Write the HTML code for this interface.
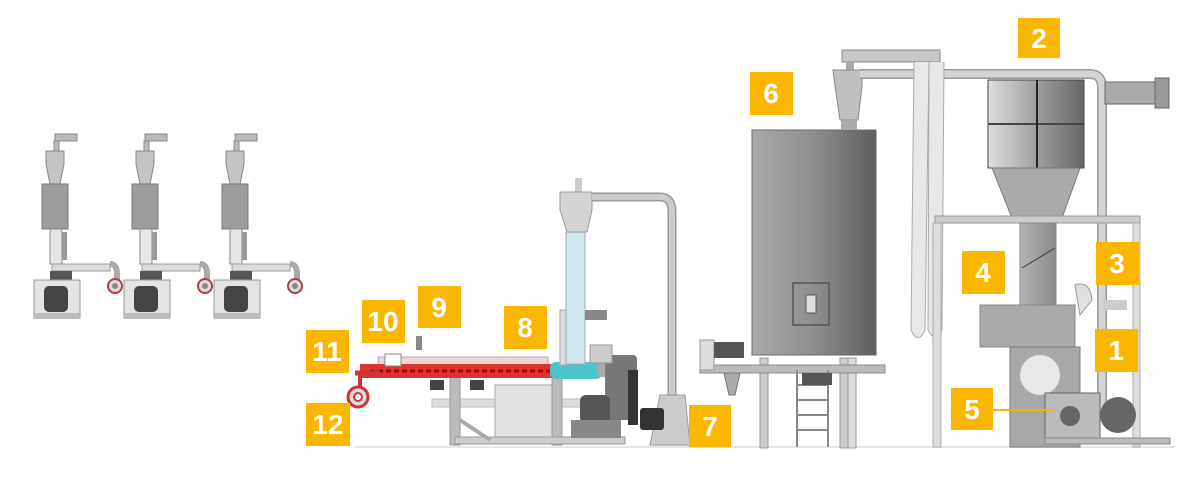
<!DOCTYPE html>
<html><head><meta charset="utf-8"><style>
html,body{margin:0;padding:0;background:#fff;}
svg{display:block}
.lb{font-family:"Liberation Sans",sans-serif;font-weight:bold;font-size:28px;fill:#fff;text-anchor:middle}
</style></head><body>
<svg width="1200" height="500" viewBox="0 0 1200 500" xmlns="http://www.w3.org/2000/svg">
<defs>
<linearGradient id="silo" x1="0" x2="1"><stop offset="0" stop-color="#a9a9a9"/><stop offset="0.5" stop-color="#8e8e8e"/><stop offset="1" stop-color="#5e5e5e"/></linearGradient>
<linearGradient id="filt" x1="0" x2="1"><stop offset="0" stop-color="#dedede"/><stop offset="0.5" stop-color="#a0a0a0"/><stop offset="1" stop-color="#666"/></linearGradient>
<linearGradient id="col" x1="0" x2="1"><stop offset="0" stop-color="#b5b5b5"/><stop offset="1" stop-color="#8a8a8a"/></linearGradient>
<g id="unit">
 <rect x="13" y="0" width="22" height="7" fill="#bbb" stroke="#888"/>
 <rect x="12" y="7" width="5" height="10" fill="#bbb" stroke="#888"/>
 <path d="M4 17 H22 V30 L18 50 H8 L4 30Z" fill="#c4c4c4" stroke="#888"/>
 <rect x="0" y="50" width="26" height="45" fill="#9c9c9c" stroke="#777"/>
 <rect x="8" y="95" width="12" height="35" fill="#e6e6e6" stroke="#888"/>
 <rect x="20" y="98" width="5" height="28" fill="#999"/>
 <rect x="10" y="130" width="58" height="7" fill="#ddd" stroke="#999"/>
 <path d="M68 130 Q75 130 75 140 V147" fill="none" stroke="#aaa" stroke-width="6"/>
 <circle cx="73" cy="152" r="7" fill="#ddd" stroke="#b04040" stroke-width="2"/>
 <circle cx="73" cy="152" r="3" fill="#888"/>
 <rect x="8" y="137" width="22" height="12" fill="#555"/>
 <rect x="-8" y="146" width="46" height="38" fill="#e4e4e4" stroke="#999"/>
 <rect x="2" y="152" width="24" height="26" fill="#444" rx="5"/>
 <rect x="-8" y="179" width="46" height="6" fill="#bbb"/>
</g>
</defs>

<use href="#unit" x="42" y="134"/>
<use href="#unit" x="132" y="134"/>
<use href="#unit" x="222" y="134"/>

<line x1="355" y1="447" x2="1175" y2="447" stroke="#e6e6e6" stroke-width="2"/>

<!-- extruder -->
<rect x="432" y="399" width="175" height="8" fill="#ddd" stroke="#bbb"/>
<rect x="495" y="385" width="65" height="58" fill="#e2e2e2" stroke="#aaa"/>
<rect x="450" y="375" width="10" height="70" fill="#bbb" stroke="#999"/>
<rect x="552" y="375" width="10" height="70" fill="#bbb" stroke="#999"/>
<rect x="455" y="437" width="170" height="7" fill="#ccc" stroke="#999"/>
<path d="M460 420 L490 440" stroke="#aaa" stroke-width="4"/>
<rect x="430" y="380" width="14" height="10" fill="#444"/>
<rect x="470" y="380" width="14" height="10" fill="#444"/>
<rect x="378" y="357" width="170" height="8" fill="#e8d8d8" stroke="#c8a0a0"/>
<rect x="360" y="364" width="195" height="14" fill="#d33" />
<path d="M370 371 H550" stroke="#a00" stroke-width="3" stroke-dasharray="5 3"/>
<rect x="550" y="362" width="52" height="17" fill="#4fc4c8" rx="6"/>
<rect x="598" y="363" width="12" height="14" fill="#aaa"/>
<rect x="605" y="355" width="32" height="65" fill="#777" rx="4"/>
<rect x="628" y="370" width="10" height="55" fill="#333"/>
<rect x="580" y="395" width="30" height="28" fill="#555" rx="6"/>
<rect x="571" y="420" width="50" height="18" fill="#888"/>
<path d="M355 373 H380" stroke="#c33" stroke-width="5"/>
<path d="M360 373 V388" stroke="#c33" stroke-width="4"/>
<circle cx="358" cy="397" r="10" fill="#ddd" stroke="#c33" stroke-width="3"/>
<circle cx="358" cy="397" r="4" fill="#fff" stroke="#c33" stroke-width="2"/>
<rect x="385" y="354" width="16" height="12" fill="#fff" stroke="#888"/>
<rect x="416" y="336" width="6" height="14" fill="#888"/>
<rect x="560" y="310" width="10" height="55" fill="#ddd" stroke="#aaa"/>
<rect x="566" y="232" width="19" height="132" fill="#cfe8ec" stroke="#9ab"/>
<rect x="585" y="310" width="22" height="10" fill="#888"/>
<rect x="590" y="345" width="22" height="18" fill="#ccc" stroke="#999"/>
<rect x="575" y="178" width="7" height="14" fill="#ccc"/>
<path d="M560 192 H592 V210 L587 232 H567 L560 210Z" fill="#d4d4d4" stroke="#999"/>
<path d="M592 197 H660 Q672 197 672 212 V400" fill="none" stroke="#999" stroke-width="9"/>
<path d="M592 197 H660 Q672 197 672 212 V400" fill="none" stroke="#ccc" stroke-width="6"/>
<path d="M660 395 L685 395 L690 445 L650 445Z" fill="#ccc" stroke="#999"/>
<rect x="640" y="408" width="24" height="22" fill="#333" rx="3"/>

<!-- silo -->
<rect x="752" y="130" width="124" height="225" fill="url(#silo)" stroke="#666"/>
<rect x="793" y="283" width="36" height="42" fill="none" stroke="#555" stroke-width="1.5"/>
<rect x="806" y="295" width="10" height="18" fill="#ddd" stroke="#555"/>
<rect x="760" y="358" width="8" height="90" fill="#ccc" stroke="#999"/>
<rect x="840" y="358" width="8" height="90" fill="#ccc" stroke="#999"/>
<rect x="848" y="358" width="8" height="90" fill="#ddd" stroke="#999"/>
<rect x="700" y="365" width="185" height="8" fill="#bbb" stroke="#888"/>
<rect x="700" y="340" width="14" height="30" fill="#ddd" stroke="#999"/>
<rect x="714" y="342" width="30" height="16" fill="#555"/>
<path d="M724 373 H740 L735 395 H729Z" fill="#aaa" stroke="#777"/>
<g stroke="#888" stroke-width="2"><line x1="797" y1="370" x2="797" y2="447"/><line x1="828" y1="370" x2="828" y2="447"/>
<line x1="797" y1="385" x2="828" y2="385"/><line x1="797" y1="400" x2="828" y2="400"/><line x1="797" y1="415" x2="828" y2="415"/><line x1="797" y1="430" x2="828" y2="430"/></g>
<rect x="802" y="373" width="30" height="12" fill="#555"/>
<rect x="842" y="50" width="98" height="12" fill="#c8c8c8" stroke="#888"/>
<rect x="846" y="62" width="8" height="10" fill="#aaa"/>
<path d="M833 70 H862 V86 L858 120 H840 L835 86Z" fill="#c0c0c0" stroke="#888"/>
<rect x="841" y="120" width="16" height="10" fill="#aaa"/>
<path d="M860 74 H1090 Q1102 74 1102 88 V410" fill="none" stroke="#999" stroke-width="10"/>
<path d="M860 74 H1090 Q1102 74 1102 88 V410" fill="none" stroke="#d4d4d4" stroke-width="7"/>
<path d="M914 62 L911 330 Q918 345 925 330 L929 62" fill="#e8e8e8" stroke="#aaa"/>
<path d="M929 62 L928 330 Q936 345 942 330 L944 62" fill="#e8e8e8" stroke="#aaa"/>
<rect x="988" y="80" width="96" height="88" fill="url(#filt)" stroke="#444"/>
<line x1="988" y1="124" x2="1084" y2="124" stroke="#444" stroke-width="2"/>
<line x1="1037" y1="80" x2="1037" y2="168" stroke="#222" stroke-width="2"/>
<path d="M992 168 H1080 L1062 218 H1012Z" fill="#aaa" stroke="#777"/>
<rect x="1105" y="82" width="50" height="22" fill="#aaa" stroke="#666"/>
<rect x="1155" y="78" width="14" height="30" fill="#999" stroke="#666"/>
<rect x="935" y="216" width="205" height="7" fill="#ccc" stroke="#999"/>
<rect x="933" y="223" width="8" height="224" fill="#ddd" stroke="#aaa"/>
<rect x="1133" y="223" width="7" height="224" fill="#ddd" stroke="#aaa"/>
<rect x="1020" y="223" width="36" height="85" fill="url(#col)" stroke="#888"/>
<line x1="1022" y1="268" x2="1055" y2="248" stroke="#333"/>
<rect x="980" y="305" width="95" height="42" fill="#aaa" stroke="#888"/>
<path d="M1075 285 Q1090 280 1092 300 L1080 315 Z" fill="#e0e0e0" stroke="#999"/>
<rect x="1103" y="300" width="24" height="10" fill="#ccc"/>
<rect x="1010" y="347" width="70" height="100" fill="#a8a8a8" stroke="#777"/>
<circle cx="1040" cy="375" r="20" fill="#e8e8e8"/>
<rect x="1045" y="393" width="55" height="50" fill="#bbb" stroke="#666"/>
<circle cx="1070" cy="416" r="10" fill="#666"/>
<circle cx="1118" cy="415" r="18" fill="#666"/>
<rect x="1045" y="438" width="125" height="6" fill="#bbb" stroke="#888"/>
<line x1="993" y1="410" x2="1053" y2="410" stroke="#f7b500" stroke-width="2"/>

<g fill="#fbb600">
<rect x="1018" y="18" width="42" height="40"/>
<rect x="750" y="72" width="43" height="43"/>
<rect x="962" y="251" width="43" height="43"/>
<rect x="1096" y="242" width="43" height="43"/>
<rect x="1095" y="329" width="43" height="43"/>
<rect x="951" y="388" width="42" height="42"/>
<rect x="689" y="405" width="42" height="42"/>
<rect x="504" y="306" width="43" height="43"/>
<rect x="418" y="286" width="43" height="42"/>
<rect x="362" y="300" width="43" height="43"/>
<rect x="306" y="330" width="43" height="43"/>
<rect x="306" y="403" width="44" height="43"/>
</g>
<text class="lb" x="1039" y="48">2</text>
<text class="lb" x="771" y="103">6</text>
<text class="lb" x="983" y="282">4</text>
<text class="lb" x="1117" y="273">3</text>
<text class="lb" x="1116" y="360">1</text>
<text class="lb" x="972" y="419">5</text>
<text class="lb" x="710" y="436">7</text>
<text class="lb" x="525" y="337">8</text>
<text class="lb" x="439" y="317">9</text>
<text class="lb" x="383" y="331">10</text>
<text class="lb" x="327" y="361">11</text>
<text class="lb" x="328" y="434">12</text>
</svg>
</body></html>
